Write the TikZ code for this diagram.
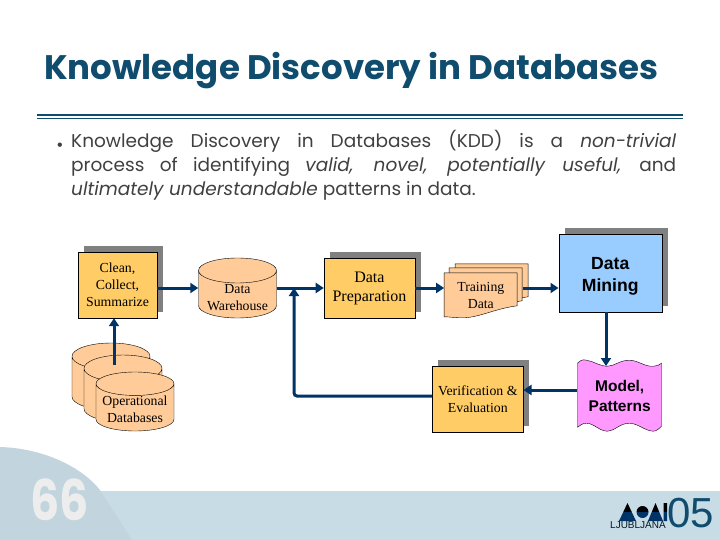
\documentclass[tikz,border=0pt]{standalone}
\usepackage{fontspec}
\usepackage{xcolor}
\usepackage{tikz}
\usetikzlibrary{arrows.meta,positioning,shapes.geometric,shadows,backgrounds,calc}
\setmainfont{Liberation Serif}
\newfontfamily\gothicfont{Poppins}
\newfontfamily\arialfont{Liberation Sans}
\definecolor{titleblue}{HTML}{0F4C6E}
\definecolor{arrowblue}{HTML}{003366}
\definecolor{boxorange}{HTML}{FFCC66}
\definecolor{dbpeach}{HTML}{FFCC99}
\definecolor{minesky}{HTML}{99CCFF}
\definecolor{modelpink}{HTML}{FF99FF}
\definecolor{stripblue}{HTML}{C8DCE5}
\definecolor{blobblue}{HTML}{C2D5DE}
\newcommand\dbline[2]{\smash{\raisebox{-#1}{#2}}}

\begin{document}
\begin{tikzpicture}[
  x=1pt, y=-1pt,
  shadowbox/.style={draw=black, rounded corners=0pt, inner sep=1pt, align=center,
    drop shadow={shadow xshift=6pt, shadow yshift=6pt, fill=black!50, opacity=1}},
  procbox/.style={shadowbox, fill=boxorange, font=\fontsize{13.8}{17}\selectfont},
  minebox/.style={shadowbox, fill=minesky, font=\arialfont\bfseries\fontsize{17.6}{22}\selectfont},
  dbcyl/.style={cylinder, shape border rotate=90, shape aspect=0.41, draw=black, fill=dbpeach,
    anchor=shape center, minimum width=78pt, inner sep=0pt, align=center, font=\fontsize{13.8}{17}\selectfont},
  sheetlbl/.style={inner sep=0pt, align=center, font=\fontsize{13.8}{17}\selectfont},
  arr/.style={-{Triangle[length=8pt, width=10pt]}, line width=3pt, arrowblue},
]
  \useasboundingbox (0,0) rectangle (720,540);

  % footer
  \fill[stripblue] (0,491) rectangle (720,540);
  \fill[blobblue] (0,447) .. controls (40,448) and (80,465) .. (100,490) -- (132,540) -- (0,540) -- cycle;
  \node[text=black!7, xscale=0.82, transform shape, font=\gothicfont\bfseries\fontsize{56}{56}\selectfont, inner sep=0pt] (pagenum) at (60,500) {66};

  % heading
  \node[anchor=west, inner sep=0pt, text=titleblue, font=\gothicfont\bfseries\fontsize{34}{36}\selectfont] (title) at (44,71) {Knowledge Discovery in Databases};
  \coordinate (ruleL) at (37,115);
  \coordinate (ruleR) at (683,115);
  \draw[titleblue, line width=2.4pt] (ruleL) -- (ruleR);
  \draw[titleblue, line width=1pt] ($(ruleL)+(0,3.2)$) -- ($(ruleR)+(0,3.2)$);

  \node[anchor=north west, inner sep=0pt, text width=605pt, align=justify, text=black!75,
    font=\gothicfont\fontsize{18.5}{24}\selectfont] (body) at (71,130)
    {Knowledge Discovery in Databases (KDD) is a \emph{non-trivial}\linebreak
     process of identifying \emph{valid, novel, potentially useful,} and\linebreak
     \emph{ultimately understandable} patterns in data.};
  \node[inner sep=0pt, text=black!75, font=\arialfont\fontsize{16}{24}\selectfont] (dot) at (60,147) {•};

  % top row
  \node[procbox, minimum width=79pt, minimum height=66pt] (clean) at (117.5,285) {Clean,\\Collect,\\Summarize};
  \node[dbcyl, minimum height=60pt] (warehouse) at (237.5,288) {\dbline{8pt}{Data}\\\dbline{8pt}{Warehouse}};
  \node[procbox, minimum width=91pt, minimum height=60pt, font=\fontsize{16}{19}\selectfont, right=47pt of warehouse.shape center -| warehouse.east] (prep) {Data\\Preparation};
  \node[sheetlbl, minimum width=73pt, minimum height=45pt, right=29pt of prep, yshift=-7.5pt] (train) {Training\\Data};
  \node[minebox, minimum width=103pt, minimum height=78pt, right=41pt of train, yshift=22.5pt] (mining) {\rule{0pt}{18.6pt}Data\\Mining};

  % bottom row
  \node[inner sep=0pt, align=center, minimum width=84pt, minimum height=72pt, font=\arialfont\bfseries\fontsize{15.5}{20}\selectfont, below=48pt of mining, xshift=9.5pt] (model) {Model,\\Patterns};
  \node[procbox, minimum width=91pt, minimum height=66pt, left=54pt of model, yshift=-3pt] (verif) {Verification \&\\Evaluation};

  % operational databases
  \node[dbcyl, minimum height=57pt] (dbback) at (111,376.5) {\phantom{Operational}\\\phantom{Databases}};
  \node[dbcyl, minimum height=57pt] (dbmid) at (123,388.5) {\phantom{Operational}\\\phantom{Databases}};
  \node[dbcyl, shape aspect=0.36, minimum height=59pt] (dbfront) at (135,401.5) {\dbline{7pt}{Operational}\\\dbline{7pt}{Databases}};

  % sheets and wave sit behind their labels
  \begin{scope}[on background layer]
    \foreach \dx/\dy in {11/-9, 5/-5, 0/0}
      \draw[fill=dbpeach, shift={($(train.north west)+(\dx,\dy)$)}]
        (0,0) -- (73,0) -- (73,33) .. controls (50,36) and (35,45) .. (18,45) .. controls (10,45) and (6,44) .. (0,44) -- cycle;
    \draw[fill=modelpink, shift={(model.north west)}]
      (0,3) .. controls (3,0) and (5,-1) .. (9,0)
      .. controls (16,1) and (22,6) .. (30,6)
      .. controls (37,6) and (42,0) .. (52,0)
      .. controls (60,0) and (68,7) .. (76,6)
      .. controls (79,6) and (82,5) .. (84,3)
      -- (84,66) .. controls (82,68) and (79,71) .. (76,71)
      .. controls (68,71) and (60,63) .. (52,63)
      .. controls (42,63) and (37,71) .. (30,71)
      .. controls (22,71) and (16,63) .. (9,63)
      .. controls (5,63) and (3,65) .. (0,67) -- cycle;
  \end{scope}

  % connectors
  \coordinate (opstart) at (114,365);
  \coordinate (backjoin) at (294,396);
  \coordinate (minedrop) at (606,366);
  \coordinate (modelout) at (577,390);
  \draw[arr] (opstart) -- (opstart |- clean.south);
  \draw[arr] (clean.east |- prep.west) -- (warehouse.west |- prep.west);
  \draw[arr] (warehouse.east |- prep.west) -- (prep.west);
  \draw[arr] (prep.east) -- (train.west |- prep.east);
  \draw[arr] ([xshift=5pt]train.east |- prep.east) -- (mining.west |- prep.east);
  \draw[arr] (minedrop |- mining.south) -- (minedrop);
  \draw[arr] (modelout) -- (verif.east |- modelout);
  \draw[arr, rounded corners=3pt] (verif.west |- backjoin) -- (backjoin) -- (backjoin |- prep.west);

  % logo
  \begin{scope}
    \clip (619,521) -- (627.5,503) -- (636,521) -- cycle
          (642.5,512) circle[radius=6]
          (648,521) -- (655.5,503) -- (663,521) -- cycle
          (663.5,503) rectangle (667,521);
    \fill[black] (615,500) rectangle (670,512);
    \fill[arrowblue] (615,512) rectangle (670,523);
  \end{scope}
  \node[inner sep=0pt, anchor=west, text=black!70!titleblue, font=\arialfont\fontsize{10}{10}\selectfont] (city) at (610,525.5) {LJUBLJANA};
  \node[inner sep=0pt, anchor=west, text=titleblue, font=\arialfont\fontsize{42}{42}\selectfont] (year) at (667,513) {05};
\end{tikzpicture}
\end{document}
